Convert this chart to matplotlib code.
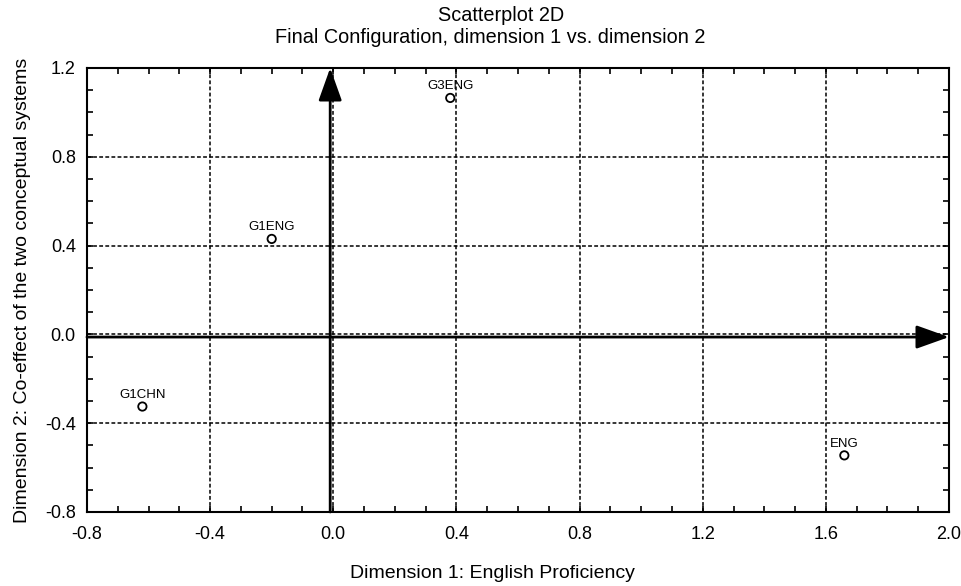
import numpy as np
import matplotlib.pyplot as plt
from matplotlib.ticker import MultipleLocator

plt.rcParams['font.family'] = ['Liberation Sans', 'DejaVu Sans']

# data
labels = ['G3ENG', 'G1ENG', 'G1CHN', 'ENG']
dim1 = [0.38, -0.20, -0.62, 1.66]
dim2 = [1.065, 0.43, -0.325, -0.545]

xlim = (-0.8, 2.0)
ylim = (-0.8, 1.2)
xticks = np.arange(-0.8, 2.01, 0.4)
yticks = np.arange(-0.8, 1.21, 0.4)

fig = plt.figure(figsize=(9.62, 5.86), dpi=100)
ax = fig.add_axes([0.0904, 0.1263, 0.8961, 0.7577])

ax.set_xlim(*xlim)
ax.set_ylim(*ylim)
ax.set_xticks(xticks)
ax.set_yticks(yticks)
ax.set_xticklabels(['%.1f' % v for v in xticks], fontsize=13)
ax.set_yticklabels(['%.1f' % v for v in yticks], fontsize=13)
ax.xaxis.set_minor_locator(MultipleLocator(0.1))
ax.yaxis.set_minor_locator(MultipleLocator(0.1))
ax.tick_params(which='both', direction='in', top=True, right=True, width=1.2)
ax.tick_params(which='major', length=4)
ax.tick_params(which='minor', length=4)
ax.tick_params(axis='x', which='major', pad=10)
ax.tick_params(axis='y', which='major', pad=8)
for s in ax.spines.values():
    s.set_linewidth(1.5)

ax.grid(True, which='major', color='black', linestyle=(0, (2.5, 1.5)), linewidth=1.1)

# axis arrows
arrow_style = dict(arrowstyle='-|>,head_length=1.4,head_width=0.5',
                   color='black', lw=2, mutation_scale=14.4,
                   shrinkA=0, shrinkB=0)
ax.annotate('', xy=(-0.01, ylim[1]), xytext=(-0.01, ylim[0]),
            arrowprops=arrow_style, annotation_clip=False)
ax.annotate('', xy=(xlim[1], -0.012), xytext=(xlim[0], -0.012),
            arrowprops=arrow_style, annotation_clip=False)

ax.scatter(dim1, dim2, s=36, facecolors='none', edgecolors='black', linewidths=1.3, zorder=5)
for lab, x, y in zip(labels, dim1, dim2):
    ax.annotate(lab, (x, y), xytext=(0, 4), textcoords='offset points',
                ha='center', va='bottom', fontsize=9.5)

ax.set_ylabel('Dimension 2: Co-effect of the two conceptual systems', fontsize=14, labelpad=10)

# title and x label, centred like the original
fig.text(0.5208, 0.9642, 'Scatterplot 2D', fontsize=14.3, ha='center', va='baseline')
fig.text(0.5094, 0.9266, 'Final Configuration, dimension 1 vs. dimension 2', fontsize=14.3,
         ha='center', va='baseline')
fig.text(0.5114, 0.0137, 'Dimension 1: English Proficiency', fontsize=14,
         ha='center', va='baseline')

fig.savefig('out.png', dpi=100)
